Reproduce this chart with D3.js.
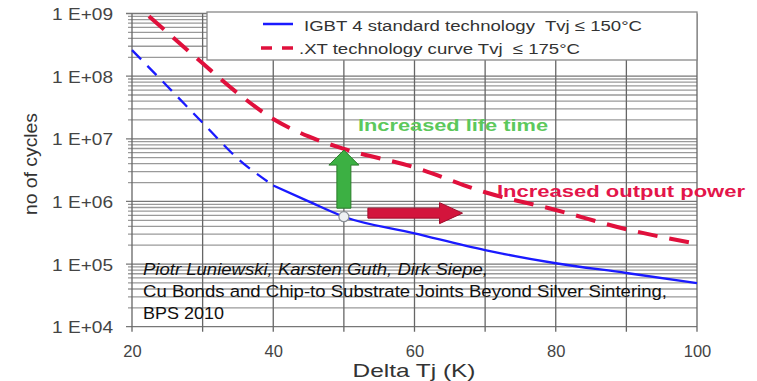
<!DOCTYPE html>
<html>
<head>
<meta charset="utf-8">
<script src="https://cdn.jsdelivr.net/npm/d3@7"></script>
<style>
  body { margin: 0; background: #fff; }
  text { font-family: "Liberation Sans", Arial, sans-serif; }
</style>
</head>
<body>
<script>
// values
var xTicks = [20, 40, 60, 80, 100];
var xGrid = [20, 30, 40, 50, 60, 70, 80, 90, 100];
var yTicks = [1e4, 1e5, 1e6, 1e7, 1e8, 1e9];
var yTickLabels = ['1 E+04', '1 E+05', '1 E+06', '1 E+07', '1 E+08', '1 E+09'];

var igbtDashX = [20, 25, 30, 35, 40];
var igbtDashY = [2.6e8, 6.9e7, 1.8e7, 4.8e6, 1.8e6];
var igbtX = [40, 45, 50, 60, 70, 80, 90, 100];
var igbtY = [1.8e6, 1.0e6, 5.7e5, 3.1e5, 1.67e5, 1.03e5, 7.2e4, 4.95e4];
var xtX = [22.4, 25, 30, 35, 40, 45, 50, 60, 70, 80, 90, 100];
var xtY = [9.0e8, 5.0e8, 1.6e8, 5.3e7, 2.07e7, 1.09e7, 6.9e6, 3.5e6, 1.4e6, 7.3e5, 3.6e5, 2.1e5];

var legendLabels = ['IGBT 4 standard technology  Tvj \u2264 150\u00B0C', '.XT technology curve Tvj  \u2264 175\u00B0C'];
var citation = ['Piotr Luniewski, Karsten Guth, Dirk Siepe,',
  'Cu Bonds and Chip-to Substrate Joints Beyond Silver Sintering,',
  'BPS 2010'];

var W = 757, H = 381;
var svg = d3.select('body').append('svg')
  .attr('width', W).attr('height', H);

var x = d3.scaleLinear().domain([20, 100]).range([132, 697]);
var y = d3.scaleLog().domain([1e4, 1e9]).range([326.7, 13.5]);

// horizontal grid (1..9 per decade)
var hLines = [];
for (var d = 4; d < 9; d++) {
  for (var k = 1; k < 10; k++) hLines.push({ v: k * Math.pow(10, d), major: k === 1 });
}
hLines.push({ v: 1e9, major: true });

svg.append('g').selectAll('line').data(hLines).enter().append('line')
  .attr('x1', function (d) { return d.major ? 126 : 128; })
  .attr('x2', x(100))
  .attr('y1', function (d) { return y(d.v); })
  .attr('y2', function (d) { return y(d.v); })
  .attr('stroke', function (d) { return d.major ? '#777' : '#9a9a9a'; })
  .attr('stroke-width', 1.3);

// vertical grid
svg.append('g').selectAll('line').data(xGrid).enter().append('line')
  .attr('x1', function (d) { return x(d); })
  .attr('x2', function (d) { return x(d); })
  .attr('y1', y(1e9))
  .attr('y2', y(1e4) + 5)
  .attr('stroke', '#666')
  .attr('stroke-width', 1.3);

// axes labels
var yAxis = d3.axisLeft(y).tickValues(yTicks).tickSize(0)
  .tickFormat(function (d, i) { return yTickLabels[i]; });
var gy = svg.append('g').attr('transform', 'translate(' + 113 + ',0)').call(yAxis);
gy.select('.domain').remove();
gy.selectAll('text').attr('x', 0).attr('dy', '0.36em')
  .attr('fill', '#444').style('font-size', '16.5px')
  .attr('textLength', 61).attr('lengthAdjust', 'spacingAndGlyphs');

var xAxis = d3.axisBottom(x).tickValues(xTicks).tickSize(0);
var gx = svg.append('g').attr('transform', 'translate(0,' + 340 + ')').call(xAxis);
gx.select('.domain').remove();
gx.selectAll('text').attr('y', 0).attr('dy', '1.05em')
  .attr('fill', '#444').style('font-size', '16.5px');

svg.append('text').attr('x', 414).attr('y', 377).attr('text-anchor', 'middle')
  .attr('fill', '#333').style('font-size', '19px')
  .attr('textLength', 123).attr('lengthAdjust', 'spacingAndGlyphs')
  .text('Delta Tj (K)');

svg.append('text').attr('transform', 'translate(37,164) rotate(-90)')
  .attr('text-anchor', 'middle').attr('fill', '#333').style('font-size', '18px')
  .attr('textLength', 102).attr('lengthAdjust', 'spacingAndGlyphs')
  .text('no of cycles');

// legend box
svg.append('rect').attr('x', 207).attr('y', 12).attr('width', 490).attr('height', 48)
  .attr('fill', '#fff').attr('stroke', '#888').attr('stroke-width', 1.3);
svg.append('line').attr('x1', 263).attr('x2', 293).attr('y1', 24).attr('y2', 24)
  .attr('stroke', '#1a1aff').attr('stroke-width', 2.5);
svg.append('line').attr('x1', 261).attr('x2', 293).attr('y1', 48).attr('y2', 48)
  .attr('stroke', '#e0103c').attr('stroke-width', 3.5).attr('stroke-dasharray', '11,10');
svg.append('text').attr('x', 304).attr('y', 30.5).attr('fill', '#333').style('font-size', '15.5px')
  .style('white-space', 'pre')
  .attr('textLength', 338).attr('lengthAdjust', 'spacingAndGlyphs').text(legendLabels[0]);
svg.append('text').attr('x', 299).attr('y', 54).attr('fill', '#333').style('font-size', '15.5px')
  .style('white-space', 'pre')
  .attr('textLength', 281).attr('lengthAdjust', 'spacingAndGlyphs').text(legendLabels[1]);

// curves
var line = d3.line()
  .x(function (d) { return x(d[0]); })
  .y(function (d) { return y(d[1]); })
  .curve(d3.curveMonotoneX);

svg.append('path').datum(d3.zip(igbtDashX, igbtDashY)).attr('d', line)
  .attr('fill', 'none').attr('stroke', '#1a1aff').attr('stroke-width', 2.3)
  .attr('stroke-dasharray', '13,9');
svg.append('path').datum(d3.zip(igbtX, igbtY)).attr('d', line)
  .attr('fill', 'none').attr('stroke', '#1a1aff').attr('stroke-width', 2.3);
svg.append('path').datum(d3.zip(xtX, xtY)).attr('d', line)
  .attr('fill', 'none').attr('stroke', '#e0103c').attr('stroke-width', 4)
  .attr('stroke-dasharray', '20,12');

// annotations
var ax = x(50), aBottom = y(7.8e5), aTop = y(6.6e6);
svg.append('path')
  .attr('d', 'M' + (ax - 7) + ',' + aBottom + 'V' + (aTop + 15) + 'H' + (ax - 15) +
    'L' + ax + ',' + aTop + 'L' + (ax + 15) + ',' + (aTop + 15) + 'H' + (ax + 7) + 'V' + aBottom + 'Z')
  .attr('fill', '#3cb043').attr('stroke', '#2b7d2b').attr('stroke-width', 1);

var rx0 = x(53.4), rx1 = x(66.8), ry = y(6.5e5);
svg.append('path')
  .attr('d', 'M' + rx0 + ',' + (ry - 5) + 'H' + (rx1 - 23) + 'V' + (ry - 10.5) +
    'L' + rx1 + ',' + ry + 'L' + (rx1 - 23) + ',' + (ry + 10.5) + 'V' + (ry + 5) + 'H' + rx0 + 'Z')
  .attr('fill', '#d3143c').attr('stroke', '#a00d2c').attr('stroke-width', 1);

svg.append('circle').attr('cx', x(50)).attr('cy', y(5.7e5)).attr('r', 5)
  .attr('fill', '#eef0f2').attr('stroke', '#8a8f96').attr('stroke-width', 1.2);

svg.append('text').attr('x', 358).attr('y', 131).attr('fill', '#5cc85c')
  .style('font-size', '17px').style('font-weight', 'bold')
  .attr('textLength', 190).attr('lengthAdjust', 'spacingAndGlyphs')
  .text('Increased life time');
svg.append('text').attr('x', 497).attr('y', 197).attr('fill', '#e3154a')
  .style('font-size', '17px').style('font-weight', 'bold')
  .attr('textLength', 248).attr('lengthAdjust', 'spacingAndGlyphs')
  .text('Increased output power');

// citation
var citeW = [345, 524, 81];
svg.append('g').selectAll('text').data(citation).enter().append('text')
  .attr('x', 143)
  .attr('y', function (d, i) { return 275 + i * 22; })
  .attr('fill', '#111')
  .style('font-size', '17px')
  .style('font-style', function (d, i) { return i === 0 ? 'italic' : 'normal'; })
  .attr('textLength', function (d, i) { return citeW[i]; })
  .attr('lengthAdjust', 'spacingAndGlyphs')
  .text(function (d) { return d; });
</script>
</body>
</html>
